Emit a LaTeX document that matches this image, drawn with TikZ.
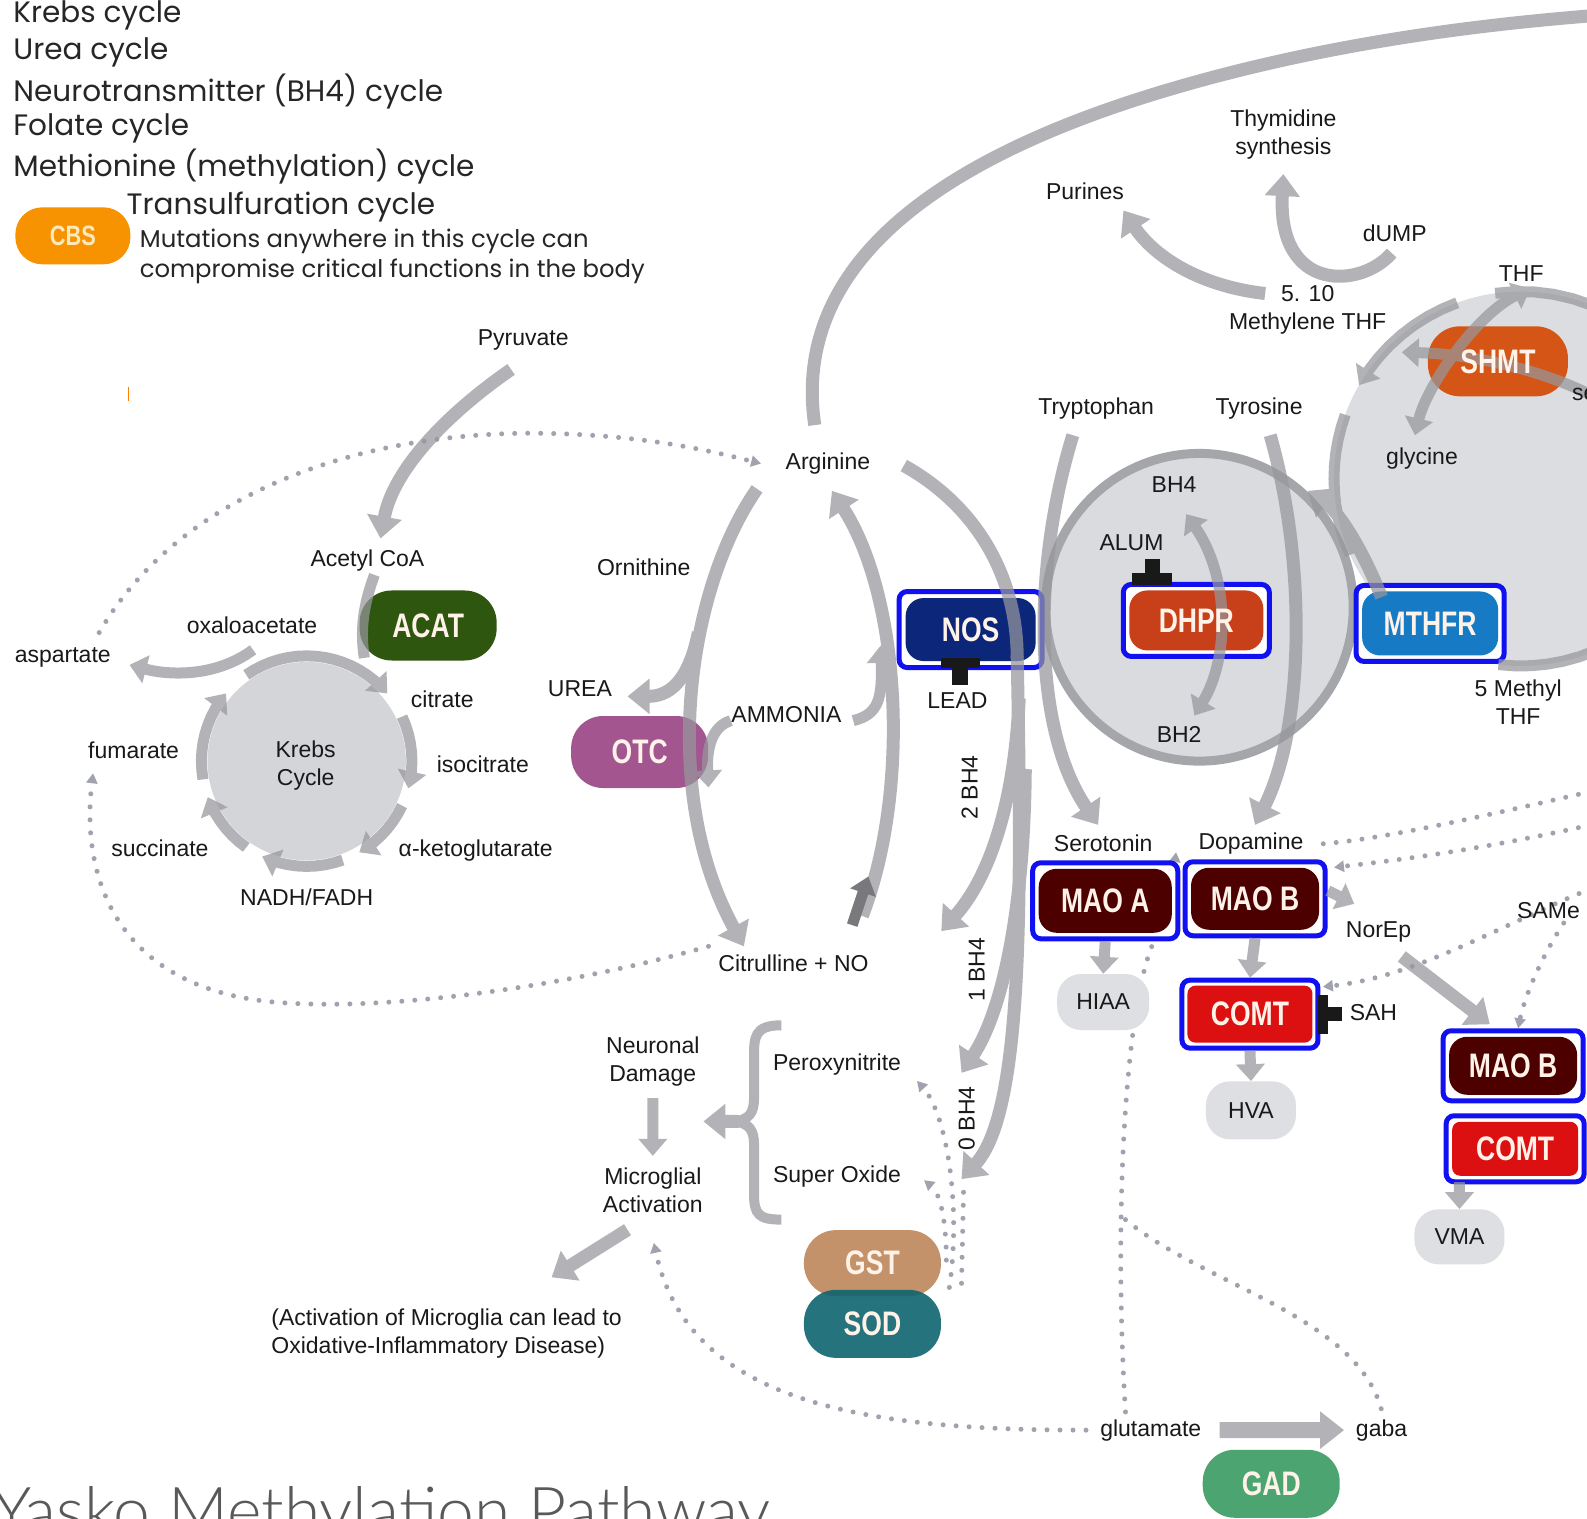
\documentclass[tikz,border=0pt]{standalone}
\usepackage{fontspec}
\setmainfont{Liberation Sans}
\newfontfamily\enzf[FakeStretch=0.78]{Liberation Sans}
\newfontfamily\legf{Poppins}
\IfFontExistsTF{Lato Light}{\newfontfamily\titlef{Lato Light}}{\newfontfamily\titlef{Lato}}
\usetikzlibrary{arrows.meta}
\definecolor{arrgray}{RGB}{150,151,156}
\definecolor{darkarr}{RGB}{70,70,75}
\definecolor{dotgray}{RGB}{160,162,174}
\definecolor{krebsgray}{RGB}{212,213,217}
\definecolor{bhgray}{RGB}{218,219,222}
\definecolor{ringgray}{RGB}{165,166,170}
\definecolor{folgray}{RGB}{220,221,224}
\definecolor{blobgray}{RGB}{222,223,226}
\definecolor{cbsor}{RGB}{247,146,0}
\definecolor{cbstext}{RGB}{252,232,185}
\definecolor{acatg}{RGB}{46,86,14}
\definecolor{otcp}{RGB}{162,85,143}
\definecolor{shmto}{RGB}{212,85,22}
\definecolor{gstc}{RGB}{196,146,106}
\definecolor{sodc}{RGB}{14,100,110}
\definecolor{gadc}{RGB}{76,165,112}
\definecolor{nosc}{RGB}{12,38,122}
\definecolor{dhprc}{RGB}{200,64,26}
\definecolor{mthfrc}{RGB}{22,122,196}
\definecolor{maoc}{RGB}{76,0,0}
\definecolor{comtc}{RGB}{220,16,16}
\definecolor{bordblue}{RGB}{16,16,240}
\definecolor{enztext}{RGB}{255,242,232}
\definecolor{lbltext}{RGB}{25,25,25}
\begin{document}
\begin{tikzpicture}[x=1.012pt,y=-1.012pt,
  lbl/.style={font=\fontsize{23}{28}\selectfont, text=lbltext, inner sep=0pt, align=center},
  leg/.style={font=\legf\fontsize{29.5}{32}\selectfont, text=black!85, inner sep=0pt, anchor=west},
  legs/.style={font=\legf\fontsize{24.3}{30}\selectfont, text=black!85, inner sep=0pt, anchor=west, align=left},
  enz/.style={font=\enzf\bfseries\fontsize{34}{36}\selectfont, text=enztext, inner sep=0pt},
  pill/.style={rectangle, rounded corners=32pt, minimum width=137pt, minimum height=70pt},
  inpill/.style={rectangle, rounded corners=18pt, minimum width=130pt, minimum height=63pt},
  bbox/.style={rectangle, draw=bordblue, line width=5pt, rounded corners=8pt, fill=white},
  blob/.style={lbl, rectangle, fill=blobgray, rounded corners=24pt, minimum width=92pt, minimum height=56pt},
  gline/.style={draw=arrgray, line width=13pt},
  garr/.style={gline, -{Triangle[length=22pt,width=34pt]}},
  kline/.style={draw=arrgray, line width=11pt},
  karr/.style={kline, -{Triangle[length=17pt,width=28pt]}},
  karrtwo/.style={kline, {Triangle[length=17pt,width=28pt]}-{Triangle[length=17pt,width=28pt]}},
  darr/.style={draw=darkarr, line width=11pt, -{Triangle[length=17pt,width=26pt]}},
  dots/.style={draw=dotgray, line width=5pt, line cap=round, dash pattern=on 0pt off 13pt},
  dotarr/.style={dots, -{Triangle[length=10pt,width=11pt]}},
  inhib/.style={fill=black!90}
]
\useasboundingbox (0,0) rectangle (1568,1500);
\fill[white] (0,0) rectangle (1568,1500);

% ---------- cycle circles
\fill[krebsgray] (303,752) circle[radius=98];
\draw[draw=ringgray, line width=9pt, fill=bhgray] (1185,600) circle[radius=152];
\fill[folgray] (1503,473) circle[radius=185];

% ---------- legend
\node[leg] (lg1) at (13,15) {Krebs cycle};
\node[leg] (lg2) at (13,52) {Urea cycle};
\node[leg] (lg3) at (13,90) {Neurotransmitter (BH4) cycle};
\node[leg] (lg4) at (13,127) {Folate cycle};
\node[leg] (lg5) at (13,165) {Methionine (methylation) cycle};
\node[leg] (lg6) at (125,205) {Transulfuration cycle};
\node[pill, fill=cbsor, minimum width=115pt, minimum height=57pt, rounded corners=27pt] (cbs) at (72,233) {};
\node[enz, text=cbstext, font=\enzf\bfseries\fontsize{28}{30}\selectfont] (cbst) at (cbs) {CBS};
\node[legs] (lg7) at (138,253) {Mutations anywhere in this cycle can\\compromise critical functions in the body};
\draw[orange, line width=1.5pt] (127,382) -- (127,396);

% ---------- dotted connectors
\draw[dotarr] (98,625) .. controls (170,500) and (330,430) .. (520,428) .. controls (630,428) and (700,445) .. (752,458);
\draw[dotarr] (700,935) .. controls (560,975) and (380,1000) .. (270,990) .. controls (110,975) and (80,860) .. (92,764);
\draw[dots] (1572,782) .. controls (1450,810) and (1360,830) .. (1303,834);
\draw[dotarr] (1572,815) .. controls (1460,840) and (1380,850) .. (1318,857);
\draw[dotarr] (1572,878) .. controls (1480,915) and (1400,965) .. (1307,975);
\draw[dotarr] (1545,912) .. controls (1520,950) and (1505,990) .. (1500,1016);
\draw[dotarr] (1112,1395) .. controls (1100,1200) and (1112,1000) .. (1138,935) .. controls (1150,905) and (1158,875) .. (1162,842);
\draw[dots] (1112,1205) .. controls (1190,1270) and (1340,1300) .. (1365,1393);
\draw[dotarr] (1073,1413) .. controls (850,1413) and (680,1385) .. (646,1228);
\draw[dotarr] (938,1272) .. controls (950,1190) and (935,1100) .. (906,1068);
\draw[dotarr] (935,1245) .. controls (935,1210) and (930,1180) .. (913,1166);
\draw[dots] (952,1178) -- (950,1268);

% ---------- enzyme shapes
\node[pill, fill=acatg] (acat) at (423,618) {};
\node[pill, fill=otcp, minimum height=72pt] (otc) at (632,743) {};
\node[pill, fill=shmto, minimum width=140pt, minimum height=70pt] (shmt) at (1480,357) {};
\node[pill, fill=gstc, minimum height=66pt] (gst) at (862,1248) {};
\node[pill, fill=sodc, fill opacity=0.9, minimum height=68pt] (sod) at (862,1308) {};
\node[pill, fill=gadc, minimum height=68pt] (gad) at (1256,1466) {};

\node[bbox, minimum width=143pt, minimum height=76pt] (nosb) at (959,622) {};
\node[inpill, fill=nosc] (nos) at (959,622) {};
\node[bbox, minimum width=146pt, minimum height=72pt] (dhprb) at (1182,613) {};
\node[inpill, fill=dhprc, minimum width=134pt, minimum height=60pt] (dhpr) at (1182,613) {};
\node[bbox, minimum width=148pt, minimum height=76pt] (mthfrb) at (1413,616) {};
\node[inpill, fill=mthfrc, minimum width=136pt, minimum height=64pt] (mthfr) at (1413,616) {};
\node[bbox, minimum width=145pt, minimum height=76pt] (maoab) at (1092,890) {};
\node[inpill, fill=maoc, minimum width=133pt, minimum height=64pt] (maoa) at (1092,890) {};
\node[bbox, minimum width=140pt, minimum height=74pt] (maobb) at (1240,888) {};
\node[inpill, fill=maoc, minimum width=128pt, minimum height=62pt] (maob) at (1240,888) {};
\node[bbox, minimum width=136pt, minimum height=68pt] (comtb) at (1235,1002) {};
\node[inpill, fill=comtc, rounded corners=8pt, minimum width=125pt, minimum height=57pt] (comt) at (1235,1002) {};
\node[bbox, minimum width=140pt, minimum height=70pt] (maobtwob) at (1495,1053) {};
\node[inpill, fill=maoc, minimum width=128pt, minimum height=58pt] (maobtwo) at (1495,1053) {};
\node[bbox, minimum width=138pt, minimum height=66pt] (comttwob) at (1497,1135) {};
\node[inpill, fill=comtc, rounded corners=8pt, minimum width=126pt, minimum height=54pt] (comttwo) at (1497,1135) {};

\node[blob] (hiaa) at (1090,990) {HIAA};
\node[blob, minimum width=90pt, minimum height=58pt] (hva) at (1236,1097) {HVA};
\node[blob, minimum width=90pt, minimum height=55pt] (vma) at (1442,1222) {VMA};

% inhibitors
\fill[inhib] (1118,566) rectangle (1158,578);
\fill[inhib] (1131,552) rectangle (1146,567);
\fill[inhib] (930,650) rectangle (968,660);
\fill[inhib] (941,659) rectangle (956,677);
\fill[inhib] (1302,983) rectangle (1312,1022);
\fill[inhib] (1311,995) rectangle (1326,1009);

% ---------- grey arrows (one semi-transparent group)
\begin{scope}[transparency group, opacity=0.72]
% Krebs
\draw[garr] (505,365) .. controls (440,410) and (388,465) .. (376,532);
\draw[kline] (370,568) .. controls (358,600) and (356,625) .. (360,650);
\draw[karr] plot[samples at={235,240,...,320}] ({303+104*cos(\x)},{752+104*sin(\x)});
\draw[karr] plot[samples at={335,340,...,375}] ({303+104*cos(\x)},{752+104*sin(\x)});
\draw[karr] plot[samples at={25,30,...,60}] ({303+104*cos(\x)},{752+104*sin(\x)});
\draw[karr] plot[samples at={70,75,...,115}] ({303+104*cos(\x)},{752+104*sin(\x)});
\draw[karr] plot[samples at={125,130,...,160}] ({303+104*cos(\x)},{752+104*sin(\x)});
\draw[karr] plot[samples at={170,175,...,220}] ({303+104*cos(\x)},{752+104*sin(\x)});
\draw[karr] (250,642) .. controls (215,668) and (170,668) .. (128,657);
% Urea
\draw[garr] (748,483) .. controls (680,580) and (650,780) .. (735,935);
\draw[garr] (690,625) .. controls (680,675) and (660,688) .. (620,688);
\draw[garr] (852,905) .. controls (900,780) and (890,590) .. (822,485);
\draw[darr] (842,914) -- (858,866);
\draw[karr] (843,712) .. controls (868,706) and (872,690) .. (870,638);
\draw[karr] (722,712) .. controls (703,718) and (698,740) .. (700,778);
% NOS / BH4 column
\draw[gline] (893,460) .. controls (965,500) and (1005,570) .. (1005,650);
\draw[garr] (1005,648) .. controls (1010,900) and (1010,1100) .. (950,1165);
\draw[garr] (1007,690) .. controls (1002,800) and (975,870) .. (930,920);
\draw[garr] (1013,760) .. controls (1012,900) and (990,1000) .. (950,1060);
\draw[gline] (805,420) .. controls (780,250) and (950,150) .. (1150,90) .. controls (1300,45) and (1450,25) .. (1580,15);
% Folate
\draw[garr] (1250,290) .. controls (1180,282) and (1138,250) .. (1110,208);
\draw[garr] (1375,250) .. controls (1345,285) and (1262,290) .. (1268,172);
\draw[karr] plot[samples at={250,245,...,210}] ({1503+185*cos(\x)},{473+185*sin(\x)});
\draw[kline] plot[samples at={200,196,...,156}] ({1503+185*cos(\x)},{473+185*sin(\x)});
\draw[kline] plot[samples at={262,268,...,334}] ({1503+185*cos(\x)},{473+185*sin(\x)});
\draw[kline] plot[samples at={97,92,...,47}] ({1503+185*cos(\x)},{473+185*sin(\x)});
\draw[karrtwo] (1398,430) .. controls (1410,380) and (1460,310) .. (1512,285);
\draw[karr] (1575,392) .. controls (1530,368) and (1460,350) .. (1385,348);
\draw[garr] (1365,590) .. controls (1345,540) and (1322,505) .. (1292,485);
% Neurotransmitters
\draw[garr] (1060,430) .. controls (1020,560) and (1020,720) .. (1085,815);
\draw[garr] (1255,430) .. controls (1292,560) and (1288,720) .. (1240,815);
\draw[karrtwo] (1172,508) .. controls (1215,570) and (1215,650) .. (1180,707);
\draw[karr] (maoab.south) -- (hiaa.north);
\draw[karr] (maobb.south) -- (comtb.north);
\draw[karr] (comtb.south) -- (hva.north);
\draw[karr] (1442,1168) -- (vma.north);
\draw[karr] (1312,880) -- (1338,893);
\draw[garr] (1385,945) -- (1472,1012);
% lower left
\draw[kline, line width=10pt] (772,1013) .. controls (745,1013) and (745,1025) .. (745,1045) -- (745,1085) .. controls (745,1100) and (740,1105) .. (728,1108) .. controls (740,1111) and (745,1116) .. (745,1131) -- (745,1180) .. controls (745,1200) and (750,1205) .. (772,1205);
\draw[garr] (730,1108) -- (695,1108);
\draw[garr] (620,1215) -- (545,1262);
\draw[karr] (645,1085) -- (645,1142);
\draw[gline, line width=16pt, -{Triangle[length=24pt,width=36pt]}] (1205,1413) -- (1328,1413);
\end{scope}

% ---------- enzyme texts
\node[enz] (acatt) at (acat) {ACAT};
\node[enz] (otct) at (otc) {OTC};
\node[enz] (shmtt) at (shmt) {SHMT};
\node[enz] (gstt) at (gst) {GST};
\node[enz] (sodt) at (sod) {SOD};
\node[enz] (gadt) at (gad) {GAD};
\node[enz] (nost) at (nos) {NOS};
\node[enz] (dhprt) at (dhpr) {DHPR};
\node[enz] (mthfrt) at (mthfr) {MTHFR};
\node[enz] (maoat) at (maoa) {MAO A};
\node[enz] (maobt) at (maob) {MAO B};
\node[enz] (comtt) at (comt) {COMT};
\node[enz] (maobtwot) at (maobtwo) {MAO B};
\node[enz] (comttwot) at (comttwo) {COMT};

% ---------- labels
\node[lbl] (pyr) at (517,336) {Pyruvate};
\node[lbl] (acoa) at (363,554) {Acetyl CoA};
\node[lbl] (oxa) at (249,618) {oxaloacetate};
\node[lbl] (asp) at (62,650) {aspartate};
\node[lbl] (cit) at (437,691) {citrate};
\node[lbl] (isocit) at (477,755) {isocitrate};
\node[lbl] (akg) at (470,840) {α-ketoglutarate};
\node[lbl] (nadh) at (303,887) {NADH/FADH};
\node[lbl] (succ) at (158,838) {succinate};
\node[lbl] (fum) at (132,741) {fumarate};
\node[lbl] (krebs) at (302,756) {Krebs\\Cycle};
\node[lbl] (arg) at (818,458) {Arginine};
\node[lbl] (orn) at (636,560) {Ornithine};
\node[lbl] (urea) at (573,680) {UREA};
\node[lbl] (amm) at (777,706) {AMMONIA};
\node[lbl] (citno) at (784,952) {Citrulline + NO};
\node[lbl] (lead) at (946,692) {LEAD};
\node[lbl, rotate=90] (bhtwo) at (958,778) {2 BH4};
\node[lbl, rotate=90] (bhone) at (965,958) {1 BH4};
\node[lbl, rotate=90] (bhzero) at (955,1105) {0 BH4};
\node[lbl] (thym) at (1268,133) {Thymidine\\synthesis};
\node[lbl] (pur) at (1072,189) {Purines};
\node[lbl] (dump) at (1378,230) {dUMP};
\node[lbl] (mthf) at (1292,306) {5. 10\\Methylene THF};
\node[lbl] (thf) at (1503,270) {THF};
\node[lbl, anchor=west] (ser) at (1553,388) {serine};
\node[lbl] (gly) at (1405,453) {glycine};
\node[lbl] (trp) at (1083,404) {Tryptophan};
\node[lbl] (tyr) at (1244,404) {Tyrosine};
\node[lbl] (bhfour) at (1160,479) {BH4};
\node[lbl] (alum) at (1118,536) {ALUM};
\node[lbl] (bhtwoc) at (1165,726) {BH2};
\node[lbl] (fmthf) at (1500,694) {5 Methyl\\THF};
\node[lbl] (sero) at (1090,833) {Serotonin};
\node[lbl] (dopa) at (1236,833) {Dopamine};
\node[lbl] (norep) at (1362,921) {NorEp};
\node[lbl] (sah) at (1357,1000) {SAH};
\node[lbl] (same) at (1530,900) {SAMe};
\node[lbl] (neur) at (645,1049) {Neuronal\\Damage};
\node[lbl] (micro) at (645,1176) {Microglial\\Activation};
\node[lbl] (perox) at (827,1052) {Peroxynitrite};
\node[lbl] (supox) at (827,1162) {Super Oxide};
\node[lbl, align=left, anchor=west] (note) at (268,1318) {(Activation of Microglia can lead to\\Oxidative-Inflammatory Disease)};
\node[lbl] (glut) at (1137,1413) {glutamate};
\node[lbl] (gaba) at (1365,1413) {gaba};
\node[font=\titlef\fontsize{66}{72}\selectfont, text=black!65, anchor=base west, inner sep=0pt] (title) at (-8,1516) {Yasko Methylation Pathway};
\end{tikzpicture}
\end{document}
